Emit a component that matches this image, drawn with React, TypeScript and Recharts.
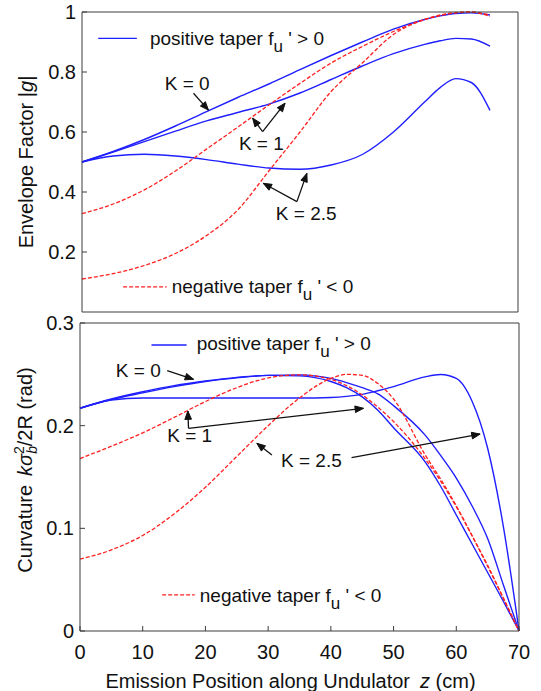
import React from "react";
import { LineChart, Line, XAxis, YAxis, ReferenceLine, ReferenceDot } from "recharts";

const FONT = "Arial, 'Liberation Sans', Helvetica, sans-serif";
const BLUE = "#1f1fff";
const RED = "#ff2020";
const AXIS = "#3c3c3c";
const INK = "#111";

// ---- top panel: envelope factor |g| ----
const zTop = [0, 5, 10, 15, 20, 25, 30, 35, 40, 45, 50, 55, 57.5, 60, 62.5, 65.5];
const gPosK0 = [0.5, 0.535, 0.575, 0.62, 0.668, 0.715, 0.76, 0.808, 0.855, 0.9, 0.943, 0.975, 0.987, 0.995, 0.997, 0.99];
const gPosK1 = [0.5, 0.533, 0.568, 0.603, 0.637, 0.665, 0.693, 0.73, 0.775, 0.82, 0.861, 0.892, 0.904, 0.912, 0.91, 0.886];
const gPosK25 = [0.5, 0.52, 0.526, 0.52, 0.508, 0.493, 0.48, 0.476, 0.49, 0.525, 0.6, 0.7, 0.748, 0.778, 0.765, 0.672];
const gNegK1 = [0.328, 0.36, 0.407, 0.47, 0.543, 0.616, 0.69, 0.762, 0.83, 0.885, 0.935, 0.975, 0.988, 0.997, 1.0, 0.99];
const gNegK25 = [0.11, 0.128, 0.155, 0.195, 0.255, 0.34, 0.47, 0.6, 0.735, 0.83, 0.925, 0.975, 0.99, 0.998, 1.0, 0.985];

// ---- bottom panel: curvature ----
const zBot = [0, 5, 10, 15, 20, 25, 30, 35, 40, 42.5, 45, 47.5, 50, 55, 57.5, 60, 62.5, 65, 67.5, 70];
const cPosK0 = [0.217, 0.226, 0.233, 0.239, 0.2435, 0.247, 0.249, 0.2485, 0.243, 0.237, 0.228, 0.215, 0.198, 0.165, 0.141, 0.113, 0.085, 0.057, 0.029, 0];
const cPosK1 = [0.217, 0.2255, 0.232, 0.238, 0.243, 0.2465, 0.249, 0.2495, 0.246, 0.242, 0.237, 0.231, 0.2195, 0.191, 0.171, 0.149, 0.122, 0.09, 0.045, 0];
const cPosK25 = [0.217, 0.225, 0.227, 0.227, 0.227, 0.227, 0.227, 0.227, 0.2275, 0.2285, 0.2305, 0.234, 0.238, 0.2475, 0.2498, 0.246, 0.224, 0.178, 0.102, 0];
const cNegK1 = [0.168, 0.18, 0.193, 0.208, 0.2235, 0.237, 0.2465, 0.2495, 0.245, 0.239, 0.23, 0.218, 0.204, 0.168, 0.146, 0.121, 0.093, 0.063, 0.032, 0];
const cNegK25 = [0.07, 0.079, 0.093, 0.114, 0.14, 0.17, 0.2, 0.227, 0.246, 0.25, 0.249, 0.241, 0.226, 0.172, 0.148, 0.122, 0.093, 0.064, 0.032, 0];

const xTicksTop = [0, 17.5, 35, 52.5, 70];
const yTicksTop = [0, 0.2, 0.4, 0.6, 0.8, 1];
const xTicksBot = [0, 10, 20, 30, 40, 50, 60, 70];
const yTicksBot = [0, 0.1, 0.2, 0.3];

const topData = zTop.map((z, i) => ({
  z,
  posK0: gPosK0[i],
  posK1: gPosK1[i],
  posK25: gPosK25[i],
  negK1: gNegK1[i],
  negK25: gNegK25[i],
}));

const botData = zBot.map((z, i) => ({
  z,
  posK0: cPosK0[i],
  posK1: cPosK1[i],
  posK25: cPosK25[i],
  negK1: cNegK1[i],
  negK25: cNegK25[i],
}));

const txt = { fontFamily: FONT, fontSize: 19, fill: INK };
const tickStyle = { fontFamily: FONT, fontSize: 20, fill: INK };

// eslint-disable-next-line @typescript-eslint/no-explicit-any
function Arrow(props: any) {
  const { x1, y1, x2, y2 } = props;
  const a = Math.atan2(y2 - y1, x2 - x1);
  const len = 9;
  const s = 0.38;
  const h1x = x2 - len * Math.cos(a - s);
  const h1y = y2 - len * Math.sin(a - s);
  const h2x = x2 - len * Math.cos(a + s);
  const h2y = y2 - len * Math.sin(a + s);
  return (
    <g>
      <line x1={x1} y1={y1} x2={x2} y2={y2} stroke={INK} strokeWidth={1.3} />
      <path d={`M${h1x},${h1y} L${x2},${y2} L${h2x},${h2y} Z`} fill={INK} stroke={INK} strokeWidth={1} />
    </g>
  );
}

function note(label: string) {
  // eslint-disable-next-line @typescript-eslint/no-explicit-any
  return (p: any) => (
    <text x={p.cx} y={p.cy} dy="0.35em" textAnchor="middle" {...txt}>
      {label}
    </text>
  );
}

function taper(word: string, sign: string) {
  // eslint-disable-next-line @typescript-eslint/no-explicit-any
  return (p: any) => (
    <text x={p.cx} y={p.cy} dy="0.35em" textAnchor="start" {...txt}>
      {word} taper f
      <tspan dy={7} fontSize={17}>u</tspan>
      <tspan dy={-7}>{" ' " + sign + " 0"}</tspan>
    </text>
  );
}

// eslint-disable-next-line @typescript-eslint/no-explicit-any
function TopYLabel(props: any) {
  const vb = props.viewBox;
  const cx = vb.x + 4;
  const cy = vb.y + vb.height / 2;
  return (
    <text x={cx} y={cy} dy="0.35em" textAnchor="middle" transform={`rotate(-90, ${cx}, ${cy})`} {...txt} fontSize={20}>
      Envelope Factor |<tspan fontStyle="italic">g</tspan>|
    </text>
  );
}

// eslint-disable-next-line @typescript-eslint/no-explicit-any
function BotYLabel(props: any) {
  const vb = props.viewBox;
  const cx = vb.x + 5;
  const cy = vb.y + vb.height / 2 - 7;
  return (
    <text x={cx} y={cy} dy="0.35em" textAnchor="middle" transform={`rotate(-90, ${cx}, ${cy})`} {...txt} fontSize={20}>
      Curvature
      <tspan dx={9} fontStyle="italic">kσ</tspan>
      <tspan dy={5} fontSize={14} fontStyle="italic">b</tspan>
      <tspan dx={-8} dy={-13} fontSize={14}>2</tspan>
      <tspan dy={8}>/2R (rad)</tspan>
    </text>
  );
}

// eslint-disable-next-line @typescript-eslint/no-explicit-any
function XLabel(props: any) {
  const vb = props.viewBox;
  const cx = vb.x + vb.width / 2 - 9;
  const cy = vb.y + 57;
  return (
    <text x={cx} y={cy} textAnchor="middle" {...txt} fontSize={20}>
      Emission Position along Undulator
      <tspan dx={10} fontStyle="italic">z</tspan>
      <tspan> (cm)</tspan>
    </text>
  );
}

const series = [
  { key: "posK0", color: BLUE, dash: undefined },
  { key: "posK1", color: BLUE, dash: undefined },
  { key: "posK25", color: BLUE, dash: undefined },
  { key: "negK1", color: RED, dash: "4 2" },
  { key: "negK25", color: RED, dash: "4 2" },
];

function renderLines() {
  return series.map((s) => (
    <Line
      key={s.key}
      type="monotone"
      dataKey={s.key}
      stroke={s.color}
      strokeWidth={s.dash ? 1.3 : 1.4}
      strokeDasharray={s.dash}
      dot={false}
      activeDot={false}
      isAnimationActive={false}
    />
  ));
}

export default function App() {
  return (
    <div style={{ position: "absolute", left: 0, top: 0, width: 541, height: 691, background: "#fff" }}>
      <div style={{ position: "absolute", left: 0, top: 0 }}>
        <LineChart width={541} height={320} data={topData} margin={{ top: 12, right: 23, bottom: 0, left: 22 }}>
          <XAxis
            dataKey="z"
            type="number"
            domain={[0, 70]}
            ticks={xTicksTop}
            tick={false}
            tickSize={-5}
            height={8}
            stroke={AXIS}
          />
          <XAxis
            xAxisId="t"
            orientation="top"
            mirror
            dataKey="z"
            type="number"
            domain={[0, 70]}
            ticks={xTicksTop}
            tick={false}
            tickSize={5}
            stroke={AXIS}
          />
          <YAxis
            type="number"
            domain={[0, 1]}
            ticks={yTicksTop}
            width={60}
            tickSize={-5}
            tickMargin={11}
            tick={tickStyle}
            stroke={AXIS}
            label={<TopYLabel />}
          />
          <YAxis
            yAxisId="r"
            orientation="right"
            mirror
            type="number"
            domain={[0, 1]}
            ticks={yTicksTop}
            tick={false}
            tickSize={5}
            stroke={AXIS}
          />
          {renderLines()}
          <ReferenceLine segment={[{ x: 2.6, y: 0.912 }, { x: 8.8, y: 0.912 }]} stroke={BLUE} strokeWidth={1.4} />
          <ReferenceDot x={10.9} y={0.913} shape={taper("positive", ">")} />
          <ReferenceLine segment={[{ x: 6.6, y: 0.084 }, { x: 13.6, y: 0.084 }]} stroke={RED} strokeWidth={1.3} strokeDasharray="4 2" />
          <ReferenceDot x={14.4} y={0.084} shape={taper("negative", "<")} />
          <ReferenceDot x={16.9} y={0.762} shape={note("K = 0")} />
          <ReferenceLine segment={[{ x: 17.9, y: 0.729 }, { x: 20.3, y: 0.673 }]} shape={Arrow} />
          <ReferenceDot x={28.8} y={0.562} shape={note("K = 1")} />
          <ReferenceLine segment={[{ x: 29, y: 0.601 }, { x: 27.4, y: 0.646 }]} shape={Arrow} />
          <ReferenceLine segment={[{ x: 29, y: 0.601 }, { x: 32.6, y: 0.696 }]} shape={Arrow} />
          <ReferenceDot x={36} y={0.328} shape={note("K = 2.5")} />
          <ReferenceLine segment={[{ x: 34.5, y: 0.368 }, { x: 29.1, y: 0.429 }]} shape={Arrow} />
          <ReferenceLine segment={[{ x: 34.5, y: 0.368 }, { x: 36.1, y: 0.462 }]} shape={Arrow} />
        </LineChart>
      </div>
      <div style={{ position: "absolute", left: 0, top: 310 }}>
        <LineChart width={541} height={381} data={botData} margin={{ top: 13, right: 22, bottom: 0, left: 20 }}>
          <XAxis
            dataKey="z"
            type="number"
            domain={[0, 70]}
            ticks={xTicksBot}
            tickSize={-5}
            tickMargin={19}
            tick={tickStyle}
            height={60}
            stroke={AXIS}
            label={<XLabel />}
          />
          <XAxis
            xAxisId="t"
            orientation="top"
            mirror
            dataKey="z"
            type="number"
            domain={[0, 70]}
            ticks={xTicksBot}
            tick={false}
            tickSize={5}
            stroke={AXIS}
          />
          <YAxis
            type="number"
            domain={[0, 0.3]}
            ticks={yTicksBot}
            width={60}
            tickSize={-5}
            tickMargin={11}
            tick={tickStyle}
            stroke={AXIS}
            label={<BotYLabel />}
          />
          <YAxis
            yAxisId="r"
            orientation="right"
            mirror
            type="number"
            domain={[0, 0.3]}
            ticks={yTicksBot}
            tick={false}
            tickSize={5}
            stroke={AXIS}
          />
          {renderLines()}
          <ReferenceLine segment={[{ x: 11.4, y: 0.2786 }, { x: 17, y: 0.2786 }]} stroke={BLUE} strokeWidth={1.4} />
          <ReferenceDot x={18.6} y={0.2805} shape={taper("positive", ">")} />
          <ReferenceLine segment={[{ x: 13.1, y: 0.0351 }, { x: 18.3, y: 0.0351 }]} stroke={RED} strokeWidth={1.3} strokeDasharray="4 2" />
          <ReferenceDot x={19.1} y={0.0351} shape={taper("negative", "<")} />
          <ReferenceDot x={9.3} y={0.2542} shape={note("K = 0")} />
          <ReferenceLine segment={[{ x: 13.9, y: 0.2535 }, { x: 18.1, y: 0.2452 }]} shape={Arrow} />
          <ReferenceDot x={17.5} y={0.191} shape={note("K = 1")} />
          <ReferenceLine segment={[{ x: 17.3, y: 0.1974 }, { x: 17.2, y: 0.2143 }]} shape={Arrow} />
          <ReferenceLine segment={[{ x: 17.3, y: 0.1974 }, { x: 45.2, y: 0.2169 }]} shape={Arrow} />
          <ReferenceDot x={36.9} y={0.166} shape={note("K = 2.5")} />
          <ReferenceLine segment={[{ x: 30.6, y: 0.1714 }, { x: 28.2, y: 0.1828 }]} shape={Arrow} />
          <ReferenceLine segment={[{ x: 43.3, y: 0.1688 }, { x: 63.8, y: 0.1918 }]} shape={Arrow} />
        </LineChart>
      </div>
    </div>
  );
}
